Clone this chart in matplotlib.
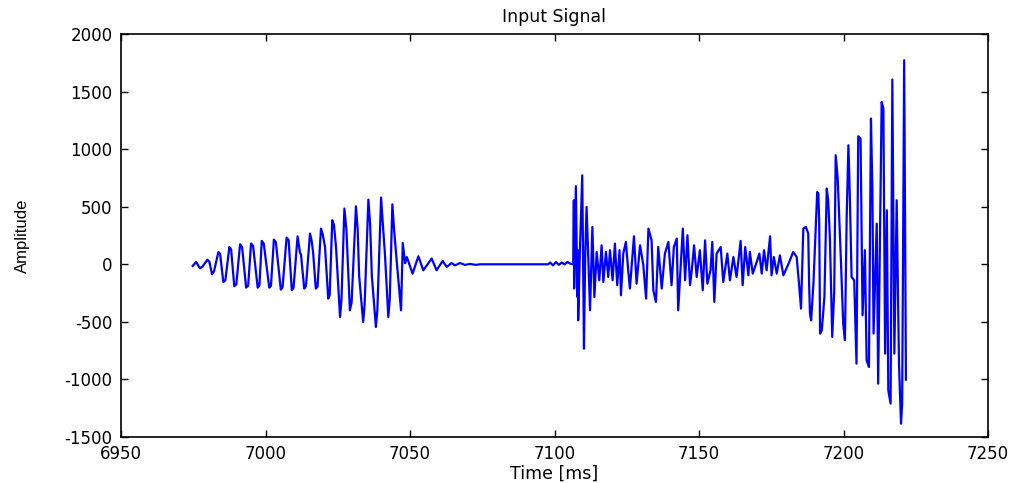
import matplotlib
matplotlib.use("Agg")
import matplotlib.pyplot as plt

# Signal vertices, per segment (time in ms, amplitude)
onset_t = [
    6974.8, 6976.0, 6977.3, 6978.2, 6979.9, 6980.6, 6981.5, 6982.2, 6983.7, 6984.3,
    6985.4, 6986.1, 6987.5, 6988.1, 6989.2, 6989.9, 6991.2, 6991.9, 6993.3, 6994.0,
    6995.0, 6995.7, 6997.3, 6997.9, 6998.7, 6999.4, 7001.3, 7001.9, 7002.9, 7003.6,
    7005.3, 7005.9, 7007.3, 7008.0, 7009.1, 7009.7, 7011.1,
]
onset_a = [
    -15, 20, -35, -20, 40, 20, -87, -60, 107, 90,
    -154, -140, 150, 130, -191, -175, 174, 150, -203, -185,
    180, 160, -203, -185, 203, 180, -203, -185, 214, 190,
    -220, -200, 232, 210, -225, -205, 243,
]

burst_t = [
    7011.9, 7012.3, 7013.4, 7014.0, 7015.4, 7016.0, 7016.5, 7017.4, 7018.0, 7019.2,
    7019.8, 7020.6, 7021.7, 7022.2, 7023.1, 7023.7, 7024.4, 7025.8, 7026.3, 7027.3,
    7028.0, 7028.5, 7029.2, 7029.8, 7031.3, 7031.9, 7032.4, 7033.8, 7034.3, 7035.6,
    7036.2, 7036.8, 7038.2, 7038.7, 7040.0, 7040.6, 7041.3, 7042.5, 7043.0, 7043.9,
    7044.5, 7045.5, 7046.9, 7047.5,
]
burst_a = [
    107, 80, -211, -190, 267, 200, 95, -211, -195, 310,
    260, 150, -298, -270, 382, 340, 150, -458, -300, 484,
    300, 0, -400, -330, 504, 300, -100, -501, -350, 562,
    350, -100, -545, -400, 580, 350, 100, -458, -300, 521,
    300, 0, -400, 185,
]

decay_t = [
    7048.3, 7048.9, 7050.9, 7052.9, 7054.6, 7057.5, 7059.2, 7061.3, 7062.7, 7064.4,
    7065.6, 7067.3, 7069.0, 7070.8, 7072.8, 7074.2, 7097.8,
    7098.5, 7099.5, 7100.5, 7101.5, 7102.5, 7103.5, 7104.5, 7105.5, 7106.5,
]
decay_a = [
    9, 63, -81, 70, -52, 50, -52, 29, -23, 11,
    -9, 11, -5, 3, -5, 0, 0,
    15, -10, 20, -5, 15, 0, 20, 5, 0,
]

noise_t = [
    7106.7, 7106.8, 7107.4, 7107.9, 7108.1, 7108.2, 7108.8, 7109.6, 7110.2, 7110.6,
    7111.1, 7112.3, 7113.1, 7113.8,
    7114.6, 7115.5, 7116.3, 7116.9, 7117.8, 7118.6, 7119.2, 7120.1, 7120.9, 7121.7,
    7122.5, 7123.0, 7123.8, 7124.7, 7125.5, 7126.1, 7127.5, 7128.4, 7129.6, 7130.7,
    7131.7, 7132.5, 7133.6, 7134.2, 7135.1, 7135.9, 7137.1, 7138.2, 7139.4, 7140.5,
    7141.3, 7142.3, 7142.8, 7144.4, 7145.2, 7146.0, 7146.9, 7147.5, 7148.3, 7149.2,
    7150.3, 7151.3, 7152.1, 7152.9, 7154.0, 7154.6, 7155.3, 7156.1, 7157.5, 7158.4,
    7159.8, 7160.7, 7161.9, 7163.0, 7164.4, 7165.1, 7166.0, 7167.1, 7167.6, 7168.6,
    7169.7, 7170.9, 7171.7, 7172.5, 7173.4, 7174.6, 7175.1, 7175.9, 7176.9, 7178.0,
    7179.2, 7180.9, 7182.6, 7183.8, 7184.7, 7185.3, 7186.1,
]
noise_a = [
    556, -210, 678, -284, 122, -487, 122, 773, -733, 50,
    498, -400, 324, -284,
    107, -139, 165, -154, 107, -110, 122, -139, 180, -182,
    122, -269, 93, 194, -52, -211, 243, -168, 165, 0,
    -298, 310, 208, -226, -327, 150, -211, 93, 194, -182,
    150, 223, -400, 310, -139, 252, -182, -52, 165, -110,
    122, -226, 208, -168, -52, 194, -327, 93, 150, -154,
    93, -139, 63, -110, 203, -182, 150, -96, 107, -81,
    0, 93, -81, 122, -52, 243, -96, 63, -81, 78,
    -96, 0, 107, 63, -197, -385, 310,
]

final_t = [
    7187.0, 7187.8, 7188.1, 7188.4, 7188.8, 7189.6, 7190.4, 7190.9, 7191.3, 7191.6,
    7191.9, 7192.5, 7193.4, 7194.2, 7194.7, 7195.3, 7196.1, 7196.8, 7197.3, 7198.0,
    7199.1, 7199.9, 7200.5, 7201.1, 7201.7, 7202.2, 7202.8, 7203.7, 7204.5, 7205.1,
    7205.9, 7206.6, 7207.4, 7208.0, 7208.8, 7209.5, 7210.0, 7210.4, 7211.5, 7212.0,
    7213.2, 7213.8, 7214.4, 7215.0, 7215.5, 7216.3, 7216.9, 7217.6, 7218.4, 7219.2,
    7219.9, 7220.3, 7221.0, 7221.6,
]
final_a = [
    324, 267, -168, -428, -487, -168, 324, 628, 614, 353,
    -602, -573, -284, 658, 556, 223, -631, -226, 947, 745,
    35, -515, -660, 411, 1034, 585, -110, -139, -863, 1112,
    1092, -443, 122, -834, -892, 1266, 643, -602, 353, -1037,
    1410, 1353, -776, 469, -1095, -1210, 1605, -776, 556, -863,
    -1384, -1210, 1772, -1002,
]

x_ticks = [6950, 7000, 7050, 7100, 7150, 7200, 7250]
y_ticks = [-1500, -1000, -500, 0, 500, 1000, 1500, 2000]

time_ms = onset_t + burst_t + decay_t + noise_t + final_t
amplitude = onset_a + burst_a + decay_a + noise_a + final_a

plt.rcParams['font.family'] = ['DejaVu Sans']

fig = plt.figure(figsize=(10.16, 4.83), dpi=100)
ax = fig.add_axes([121 / 1016, 1 - 437 / 483, (988 - 121) / 1016, (437 - 34) / 483])

ax.plot(time_ms, amplitude, color='#0000ff', linewidth=1.6)

ax.set_xlim(6950, 7250)
ax.set_ylim(-1500, 2000)
ax.set_xticks(x_ticks)
ax.set_yticks(y_ticks)
ax.set_xticklabels([str(v) for v in x_ticks], fontsize=12)
ax.set_yticklabels([str(v) for v in y_ticks], fontsize=12)
ax.tick_params(direction='in', top=True, right=True, length=5, width=1, pad=6)
for s in ax.spines.values():
    s.set_linewidth(1.2)

ax.set_title('Input Signal', fontsize=12.5, pad=9)
ax.set_xlabel('Time [ms]', fontsize=12.5, labelpad=1)
ax.set_ylabel('Amplitude', fontsize=12,
              family=['Liberation Sans', 'DejaVu Sans'])
ax.yaxis.set_label_coords(-0.105, 0.5)

fig.savefig('out.png', dpi=100)
